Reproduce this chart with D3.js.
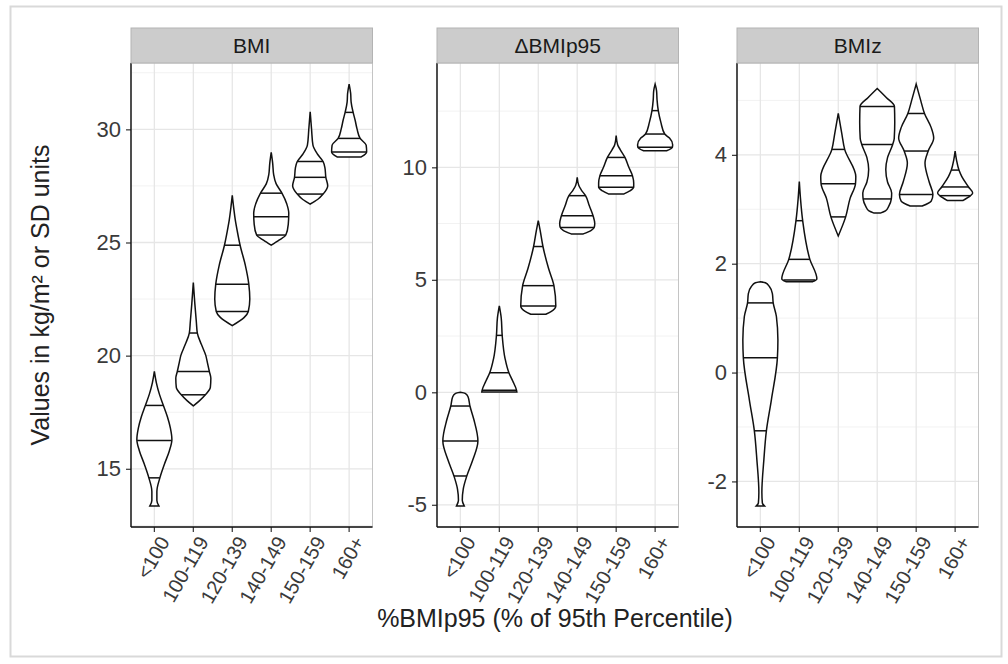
<!DOCTYPE html>
<html>
<head>
<meta charset="utf-8">
<script src="https://cdn.jsdelivr.net/npm/d3@7"></script>
<style>
  body { margin: 0; background: #fff; }
  text { font-family: "Liberation Sans", Arial, sans-serif; }
</style>
</head>
<body>
<script>
// facets and groups
var facets = ["BMI", "\u0394BMIp95", "BMIz"];
var categories = ["<100", "100-119", "120-139", "140-149", "150-159", "160+"];

// y tick labels per facet
var bmiTicks = [15, 20, 25, 30];
var dbmiTicks = [-5, 0, 5, 10];
var bmizTicks = [-2, 0, 2, 4];

// violin outlines: [value, relative half width], bottom to top
var bmiProfiles = [
  [[13.36,4.5],[13.6,2.5],[14.0,2.5],[14.6,5.5],[15.2,10],[15.8,15],[16.3,17.5],[16.8,16],[17.3,13],[17.8,9],[18.3,5],[18.8,2],[19.3,0]],
  [[17.78,0],[18.0,6],[18.27,12],[18.6,17],[19.0,17.5],[19.3,16],[19.7,14],[20.0,12.5],[20.5,8],[21.0,4],[21.5,3],[22.3,1.5],[23.23,0]],
  [[21.33,0],[21.68,11.7],[21.95,16],[22.5,17.5],[23.16,16.5],[24.0,13],[24.88,7.8],[25.5,5],[26.0,3],[26.5,1.5],[27.08,0]],
  [[24.88,0],[25.1,8],[25.33,15],[25.8,17.5],[26.3,18],[26.7,16],[27.18,11],[27.6,5],[28.0,2.5],[28.5,1.5],[28.98,0]],
  [[26.7,0],[26.9,8],[27.14,14],[27.5,19],[27.88,17],[28.3,16],[28.58,14],[28.9,8],[29.3,3],[30.0,1.5],[30.78,0]],
  [[28.78,12],[28.9,16],[29.0,17.5],[29.3,17],[29.6,11],[30.0,8],[30.4,6],[30.75,4],[31.2,2],[31.6,1.5],[32.0,0]]
];
var bmiQuantiles = [[14.6,16.25,17.8],[18.27,19.3,21.0],[21.95,23.16,24.88],[25.33,26.14,27.18],[27.14,27.88,28.58],[29.0,29.6,30.75]];

var dbmiProfiles = [
  [[-5.05,4],[-4.8,2],[-4.3,3],[-3.72,6.7],[-3.0,13],[-2.16,18.3],[-1.2,14],[-0.61,10],[-0.2,8],[-0.05,5],[0.0,0]],
  [[0.01,18.3],[0.09,18],[0.5,14],[0.87,10],[1.5,6],[2.53,3],[3.3,2],[3.84,0]],
  [[3.47,8],[3.6,14],[3.84,18.7],[4.74,16.7],[5.5,11],[6.48,5],[7.2,2],[7.63,0]],
  [[7.04,6],[7.2,14],[7.33,17],[7.5,17.5],[7.85,15.8],[8.3,12],[8.74,8.3],[9.0,4],[9.2,1.5],[9.56,0]],
  [[8.82,8],[8.95,14],[9.11,18],[9.3,18],[9.63,16.7],[10.0,13],[10.44,9],[10.8,4],[11.0,1.5],[11.41,0]],
  [[10.74,12],[10.89,18],[11.0,18.3],[11.3,15],[11.48,10],[12.0,6],[12.52,3.3],[13.0,2],[13.4,1.5],[13.7,0]]
];
var dbmiQuantiles = [[-3.72,-2.16,-0.61],[0.09,0.87,2.53],[3.84,4.74,6.48],[7.33,7.85,8.74],[9.11,9.63,10.44],[10.89,11.48,12.52]];

var bmizProfiles = [
  [[-2.45,4],[-2.4,2],[-2.2,1.5],[-1.6,3.5],[-1.07,6],[-0.5,11],[0.27,17],[0.6,17.5],[1.03,16],[1.28,12.8],[1.45,12],[1.58,9],[1.65,5],[1.67,0]],
  [[1.67,14],[1.72,18.3],[2.08,11],[2.79,3.5],[3.2,1.2],[3.51,0]],
  [[2.51,0],[2.86,7.5],[3.2,12],[3.47,17.5],[3.6,17.8],[4.10,6.5],[4.4,3.5],[4.76,0]],
  [[2.93,3],[2.97,8],[3.05,11],[3.19,13.7],[3.3,14],[3.5,10],[3.73,8.3],[3.95,10],[4.19,15],[4.3,16.5],[4.6,17],[4.89,16.7],[5.05,9],[5.22,0]],
  [[3.06,6],[3.15,15],[3.27,16.7],[3.5,13],[3.85,8.8],[4.07,12],[4.31,17.5],[4.5,15],[4.76,8.3],[5.0,4.5],[5.3,0]],
  [[3.16,8],[3.25,16],[3.3,18.3],[3.41,14],[3.6,7],[3.72,4],[3.9,1.5],[4.07,0]]
];
var bmizQuantiles = [[-1.07,0.27,1.28],[1.70,2.08,2.79],[2.86,3.47,4.10],[3.19,4.19,4.89],[3.27,4.07,4.76],[3.25,3.41,3.72]];

var panelData = [
  {ticks: bmiTicks, profiles: bmiProfiles, quantiles: bmiQuantiles},
  {ticks: dbmiTicks, profiles: dbmiProfiles, quantiles: dbmiQuantiles},
  {ticks: bmizTicks, profiles: bmizProfiles, quantiles: bmizQuantiles}
];

var svgWidth = 1008, svgHeight = 664;
var panelLeft = [131, 437, 737];
var panelW = 241.5;
var stripTop = 28, panelTop = 63, panelBottom = 527;
var panelH = panelBottom - panelTop;

var svg = d3.select("body").append("svg")
  .attr("width", svgWidth)
  .attr("height", svgHeight);

// outer frame
svg.append("rect")
  .attr("x", 10.5).attr("y", 6.5)
  .attr("width", 991).attr("height", 650)
  .attr("fill", "#fff")
  .attr("stroke", "#d9d9d9")
  .attr("stroke-width", 2);

panelData.forEach(function(pd, i) {
  var g = svg.append("g").attr("transform", `translate(${panelLeft[i]},${panelTop})`);

  // ggplot style 5% expansion of the data range
  var lo = d3.min(pd.profiles, p => p[0][0]);
  var hi = d3.max(pd.profiles, p => p[p.length - 1][0]);
  var pad = (hi - lo) * 0.05;
  var y = d3.scaleLinear().domain([lo - pad, hi + pad]).range([panelH, 0]);

  var x = d3.scaleBand().domain(categories).range([0, panelW])
    .paddingInner(0).paddingOuter(0.1);
  var bw = x.bandwidth();
  var cx = c => x(c) + bw / 2;

  // grid
  var step = pd.ticks[1] - pd.ticks[0];
  var minor = [];
  for (var v = pd.ticks[0] - step / 2; v <= y.domain()[1]; v += step) {
    if (v >= y.domain()[0]) minor.push(v);
  }
  g.selectAll(".minor").data(minor).enter().append("line")
    .attr("x1", 0).attr("x2", panelW)
    .attr("y1", d => y(d)).attr("y2", d => y(d))
    .attr("stroke", "#f2f2f2").attr("stroke-width", 1);
  g.selectAll(".majory").data(pd.ticks).enter().append("line")
    .attr("x1", 0).attr("x2", panelW)
    .attr("y1", d => y(d)).attr("y2", d => y(d))
    .attr("stroke", "#e6e6e6").attr("stroke-width", 1.3);
  g.selectAll(".majorx").data(categories).enter().append("line")
    .attr("x1", d => cx(d)).attr("x2", d => cx(d))
    .attr("y1", 0).attr("y2", panelH)
    .attr("stroke", "#e6e6e6").attr("stroke-width", 1.3);

  // panel border
  g.append("rect").attr("width", panelW).attr("height", panelH)
    .attr("fill", "none").attr("stroke", "#c4c4c4").attr("stroke-width", 1);

  // violins
  pd.profiles.forEach(function(prof, j) {
    var c = cx(categories[j]);
    var wmax = d3.max(prof, d => d[1]);
    var w = d3.scaleLinear().domain([0, wmax]).range([0, bw * 0.45]);
    var area = d3.area()
      .y(d => y(d[0]))
      .x0(d => c - w(d[1]))
      .x1(d => c + w(d[1]))
      .curve(d3.curveMonotoneY);
    g.append("path")
      .attr("d", area(prof))
      .attr("fill", "#fff")
      .attr("stroke", "#111")
      .attr("stroke-width", 1.5);

    // quantile lines
    var vals = prof.map(d => d[0]);
    var wid = prof.map(d => d[1]);
    var interp = d3.scaleLinear().domain(vals).range(wid);
    pd.quantiles[j].forEach(function(q) {
      var hw = w(interp(q));
      g.append("line")
        .attr("x1", c - hw).attr("x2", c + hw)
        .attr("y1", y(q)).attr("y2", y(q))
        .attr("stroke", "#111").attr("stroke-width", 1.5);
    });
  });

  // axes
  var leftAxis = d3.axisLeft(y).tickValues(pd.ticks).tickSize(5).tickPadding(5)
    .tickFormat(d => String(d));
  var ya = g.append("g").call(leftAxis);
  ya.select(".domain").remove();
  ya.selectAll("line").attr("stroke", "#333").attr("stroke-width", 1.2);
  ya.selectAll("text").attr("font-size", 22).attr("fill", "#3a3a3a");

  var bottomAxis = d3.axisBottom(x).tickSize(5).tickFormat("");
  var xa = g.append("g").attr("transform", `translate(0,${panelH})`).call(bottomAxis);
  xa.select(".domain").remove();
  xa.selectAll("line").attr("stroke", "#333").attr("stroke-width", 1.2);

  g.selectAll(".xlab").data(categories).enter().append("text")
    .attr("transform", d => `translate(${cx(d) + 10},${panelH + 11}) rotate(-60)`)
    .attr("text-anchor", "end")
    .attr("dy", "0.35em")
    .attr("font-size", 20)
    .attr("fill", "#3a3a3a")
    .text(d => d);

  g.append("line").attr("x1", 0).attr("x2", 0).attr("y1", 0).attr("y2", panelH)
    .attr("stroke", "#111").attr("stroke-width", 1.4);
  g.append("line").attr("x1", 0).attr("x2", panelW).attr("y1", panelH).attr("y2", panelH)
    .attr("stroke", "#111").attr("stroke-width", 1.4);

  // strip
  svg.append("rect")
    .attr("x", panelLeft[i]).attr("y", stripTop)
    .attr("width", panelW).attr("height", panelTop - stripTop)
    .attr("fill", "#cccccc").attr("stroke", "#b3b3b3").attr("stroke-width", 1);
  svg.append("text")
    .attr("x", panelLeft[i] + panelW / 2).attr("y", (stripTop + panelTop) / 2)
    .attr("dy", "0.35em")
    .attr("text-anchor", "middle")
    .attr("font-size", 21)
    .attr("fill", "#1a1a1a")
    .text(facets[i]);
});

svg.append("text")
  .attr("transform", "translate(40,295) rotate(-90)")
  .attr("text-anchor", "middle")
  .attr("dy", "0.35em")
  .attr("font-size", 25)
  .attr("fill", "#222")
  .text("Values in kg/m\u00b2 or SD units");

svg.append("text")
  .attr("x", 555).attr("y", 627)
  .attr("text-anchor", "middle")
  .attr("font-size", 25)
  .attr("fill", "#222")
  .text("%BMIp95 (% of 95th Percentile)");
</script>
</body>
</html>
